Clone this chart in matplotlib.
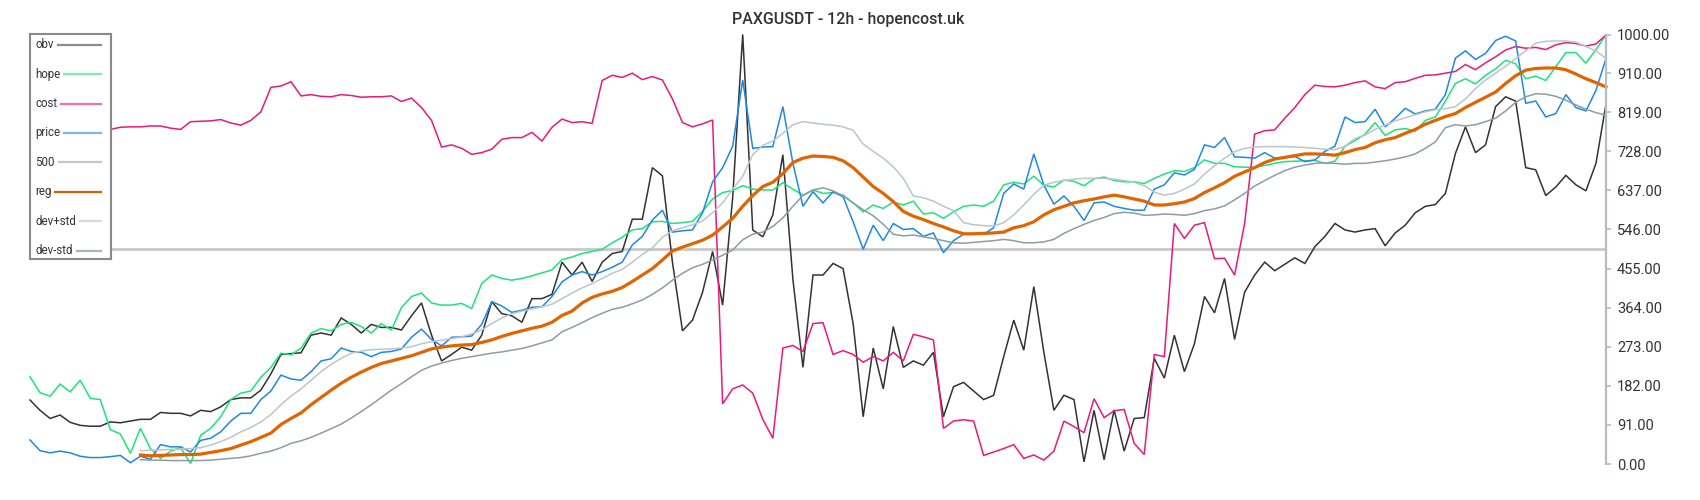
import numpy as np
import matplotlib
matplotlib.use("Agg")
import matplotlib.pyplot as plt
from matplotlib.lines import Line2D

plt.rcParams['font.family'] = ['Roboto', 'DejaVu Sans']

title = "PAXGUSDT - 12h - hopencost.uk"
yticks = [0, 91, 182, 273, 364, 455, 546, 637, 728, 819, 910, 1000]
level_500 = 500

obv = [149, 125, 106, 114, 97, 90, 88, 88, 98, 96,
       100, 104, 104, 120, 118, 118, 112, 125, 122, 133,
       150, 154, 154, 172, 210, 255, 257, 259, 300, 305,
       300, 340, 325, 305, 325, 318, 318, 312, 345, 375,
       300, 240, 255, 272, 265, 300, 378, 350, 345, 330,
       385, 385, 395, 470, 440, 470, 425, 470, 490, 495,
       570, 570, 690, 671, 470, 310, 335, 400, 495, 370,
       620, 1000, 545, 529, 580, 720, 430, 225, 440, 440,
       467, 455, 327, 110, 270, 175, 320, 225, 240, 230,
       260, 110, 180, 190, 170, 150, 160, 250, 335, 265,
       413, 260, 125, 160, 150, 5,
       125, 10, 126, 30, 106, 108, 246, 200, 300, 215,
       280, 390, 352, 432, 290, 400, 440, 470, 450, 465,
       480, 467, 506, 530, 560, 545, 540,
       545, 548, 508, 538, 556, 585, 600, 604, 630, 723,
       785, 725, 743, 832, 855, 845, 690, 685, 625, 645,
       672, 650, 636, 700, 838]

hope = [203, 166, 158, 186, 168, 195, 153, 150, 80, 70,
        25, 83, 36, 13, 30, 38, 1, 67, 83, 110,
        150, 165, 170, 202, 225, 258, 254, 270, 305, 315,
        310, 325, 330, 320, 305, 327, 312, 364, 390, 398,
        375, 370, 370, 374, 362, 420, 440, 432, 428, 432,
        438, 445, 452, 476, 482, 490, 495, 500, 515, 528,
        545, 548, 564, 565, 560, 562, 565, 588, 617, 632,
        637, 648, 640, 638, 638, 655, 640, 626, 638, 630,
        632, 626, 608, 587, 603, 595, 610, 603, 612, 582,
        585, 572, 587, 600, 603, 600, 612, 650, 656, 652,
        670, 649, 645, 661, 658, 648,
        664, 668, 660, 657, 657, 653, 665, 675, 683, 681,
        690, 708, 700, 700, 692, 691, 691, 695, 700, 704,
        705, 706, 707, 700, 705, 740, 753,
        768, 795, 765, 778, 781, 775, 800, 808, 845, 886,
        897, 885, 905, 920, 940, 932, 897, 903, 893, 925,
        958, 958, 933, 965, 999]

cost = [772, 775, 776, 778, 777, 779, 778, 777, 779, 784,
        785, 785, 787, 787, 782, 779, 797, 798, 799, 802,
        794, 789, 800, 820, 877, 880, 890, 857, 860, 856,
        855, 860, 858, 854, 855, 855, 857, 844, 852, 830,
        800, 738, 743, 735, 721, 725, 733, 756, 760, 760,
        772, 752, 784, 803, 795, 797, 793, 893, 905, 900,
        910, 895, 902, 894, 850, 795, 785, 792, 801, 140,
        175, 184, 165, 104, 60, 270, 276, 262, 327, 329,
        255, 264, 255, 237, 250, 240, 260, 240, 302, 296,
        289, 83, 100, 103, 100, 20, 28, 36, 45, 13,
        21, 9, 30, 100, 87, 73,
        152, 108, 124, 127, 48, 22, 255, 250, 560, 525,
        556, 562, 478, 479, 440, 560, 768, 776, 778, 805,
        830, 860, 882, 879, 878, 882, 888,
        892, 878, 874, 888, 890, 898, 905, 906, 910, 914,
        930, 918, 934, 948, 964, 972, 968, 970, 965, 976,
        981, 979, 973, 978, 999]

price = [56, 31, 26, 30, 26, 18, 15, 15, 17, 20,
         3, 18, 11, 45, 40, 40, 28, 55, 60, 75,
         100, 118, 118, 150, 170, 207, 198, 195, 215, 240,
         245, 270, 262, 260, 250, 260, 262, 268, 295, 314,
         290, 275, 295, 296, 298, 325, 378, 368, 353, 358,
         365, 366, 390, 424, 440, 448, 440, 448, 458, 470,
         510, 530, 568, 591, 540, 543, 545, 585, 657, 690,
         740, 894, 735, 738, 739, 832, 700, 600, 634, 608,
         634, 622, 564, 500, 556, 520, 560, 546, 548, 530,
         538, 492, 520, 535, 536, 535, 550, 630, 652, 640,
         722, 649, 605, 624, 600, 567,
         608, 610, 600, 595, 591, 591, 640, 650, 678, 673,
         686, 743, 737, 760, 715, 714, 712, 725, 712, 713,
         716, 704, 708, 728, 740, 808, 795,
         797, 826, 785, 805, 828, 815, 822, 826, 860, 945,
         962, 942, 956, 986, 996, 985, 840, 845, 808, 816,
         860, 830, 822, 870, 944]

reg = [None] * 11 + [
       21, 19, 20, 21, 22, 22, 23, 27, 31,
       36, 44, 52, 62, 72, 92, 106, 119, 138, 155,
       172, 188, 202, 214, 225, 234, 240, 246, 252, 260,
       268, 272, 275, 277, 278, 283, 289, 297, 304, 310,
       316, 321, 330, 346, 356, 375, 388, 396, 402, 411,
       425, 440, 455, 475, 496, 505, 513, 521, 533, 552,
       572, 600, 625, 646, 656, 676, 702, 712, 717, 716,
       714, 706, 690, 668, 646, 630, 611, 588, 577, 569,
       560, 552, 543, 536, 536, 537, 538, 540, 550, 555,
       564, 580, 592, 600, 608, 613,
       617, 622, 626, 622, 617, 612, 603, 603, 606, 610,
       618, 632, 643, 655, 670, 680, 690, 702, 710, 714,
       718, 722, 722, 721, 719, 725, 732,
       737, 748, 755, 760, 770, 779, 791, 800, 809, 816,
       830, 842, 854, 866, 886, 904, 917, 921, 922, 922,
       918, 908, 897, 888, 878]

dev_plus = [None] * 11 + [
       31, 32, 33, 34, 35, 36, 38, 44, 52,
       62, 75, 85, 98, 115, 138, 158, 175, 195, 215,
       232, 246, 258, 263, 266, 267, 268, 270, 273, 280,
       285, 288, 292, 296, 303, 312, 327, 340, 350, 356,
       361, 366, 372, 385, 398, 410, 420, 432, 444, 453,
       470, 488, 503, 528, 543, 550, 557, 566, 585, 608,
       640, 670, 720, 742, 752, 770, 790, 797, 794, 791,
       789, 785, 777, 745, 728, 712, 692, 665, 624, 620,
       612, 600, 590, 562, 557, 555, 554, 562, 580, 603,
       628, 649, 656, 660, 663, 665,
       665, 665, 663, 660, 656, 648, 633, 626, 630, 640,
       652, 675, 694, 712, 727, 735, 738, 739, 739, 739,
       738, 737, 735, 733, 732, 740, 758,
       766, 779, 789, 799, 806, 813, 820, 825, 827, 832,
       850, 874, 894, 910, 926, 944, 962, 980, 984, 985,
       985, 982, 972, 962, 944]

dev_minus = [None] * 11 + [
       10, 9, 9, 8, 8, 8, 8, 9, 11,
       13, 15, 19, 25, 30, 38, 48, 54, 62, 72,
       82, 93, 107, 122, 138, 155, 172, 187, 203, 218,
       228, 235, 241, 246, 250, 254, 258, 261, 265, 269,
       275, 282, 289, 308, 318, 329, 341, 351, 360, 365,
       373, 382, 395, 410, 428, 444, 457, 465, 475, 486,
       498, 522, 535, 540, 553, 573, 600, 625, 638, 643,
       636, 624, 608, 592, 578, 558, 535, 531, 533, 529,
       525, 520, 515, 514, 516, 518, 520, 523, 520, 515,
       515, 517, 523, 537, 548, 558,
       567, 574, 583, 586, 584, 579, 580, 582, 581, 579,
       583, 590, 594, 601, 615, 630, 647, 660, 672, 683,
       691, 696, 700, 701, 700, 698, 700,
       700, 703, 706, 710, 715, 722, 735, 750, 783, 790,
       787, 790, 797, 805, 822, 842, 855, 862, 861, 856,
       847, 836, 826, 818, 812]

def arr(v):
    return np.array([np.nan if x is None else x for x in v], dtype=float)

N = len(obv)
idx = np.arange(N)

W, H = 1700, 500
fig = plt.figure(figsize=(17, 5), dpi=100)
fig.patch.set_facecolor('white')

left_px, right_px, top_px, bot_px = 30, 1606, 34.5, 464
ax = fig.add_axes([left_px / W, (H - bot_px) / H, (right_px - left_px) / W, (bot_px - top_px) / H])
ax.set_facecolor('none')
ax.set_xlim(0, N - 1)
ax.set_ylim(0, 1000)

axis_col = '#b3bec4'
for s in ['top', 'left', 'bottom']:
    ax.spines[s].set_visible(False)
ax.spines['right'].set_color(axis_col)
ax.spines['right'].set_linewidth(1.6)
ax.xaxis.set_visible(False)
ax.yaxis.set_ticks_position('right')
ax.set_yticks(yticks)
ax.set_yticklabels([f"{t:.2f}" for t in yticks])
ax.tick_params(axis='y', direction='out', length=3.8, width=1.2, color=axis_col,
               pad=4.2, labelsize=10.5, labelcolor='#333333')

series = [
    ('obv', obv, '#333333', 1.1),
    ('hope', hope, '#1ee37c', 1.1),
    ('cost', cost, '#e8197f', 1.1),
    ('price', price, '#1e88e5', 1.1),
    ('reg', reg, '#e06400', 2.3),
    ('dev+std', dev_plus, '#bcc5ca', 1.1),
    ('dev-std', dev_minus, '#8d9ca5', 1.1),
]

ax.axhline(level_500, color='#c8c8c8', lw=2.0, zorder=1)
for name, vals, col, lw in series:
    ax.plot(idx, arr(vals), color=col, lw=lw, clip_on=False, zorder=2,
            solid_joinstyle='miter' if lw < 2 else 'round')

fig.text(848.5 / W, 1 - 19.5 / H, title, ha='center', va='center',
         fontsize=11.4, color='#333333', fontweight='medium')

# legend box (drawn manually in pixel layout)
lx0, ly0, lx1, ly1 = 30, 34.3, 111, 259
lax = fig.add_axes([lx0 / W, (H - ly1) / H, (lx1 - lx0) / W, (ly1 - ly0) / H])
lax.set_xlim(0, lx1 - lx0)
lax.set_ylim(ly1 - ly0, 0)
lax.set_xticks([])
lax.set_yticks([])
lax.set_facecolor('white')
for s in lax.spines.values():
    s.set_color('#8a8a8a')
    s.set_linewidth(1.5)

legend_items = [
    ('obv', '#8c8c8c'), ('hope', '#82eab0'), ('cost', '#ee70b5'), ('price', '#7ab9ef'),
    ('500', '#c8c8c8'), ('reg', '#d4600a'), ('dev+std', '#d4dadd'), ('dev-std', '#aab5bb'),
]
fig.canvas.draw()
renderer = fig.canvas.get_renderer()
for k, (lab, col) in enumerate(legend_items):
    yy = 10.4 + 29.4 * k
    t = lax.text(5, yy, lab, fontsize=8.3, color='#333333', ha='left', va='center')
    bb = t.get_window_extent(renderer=renderer)
    x_end_px = bb.x1 - lx0
    lax.add_line(Line2D([x_end_px + 4, 70.7], [yy, yy], color=col, lw=1.6))

fig.savefig('out.png', dpi=100, facecolor='white')
